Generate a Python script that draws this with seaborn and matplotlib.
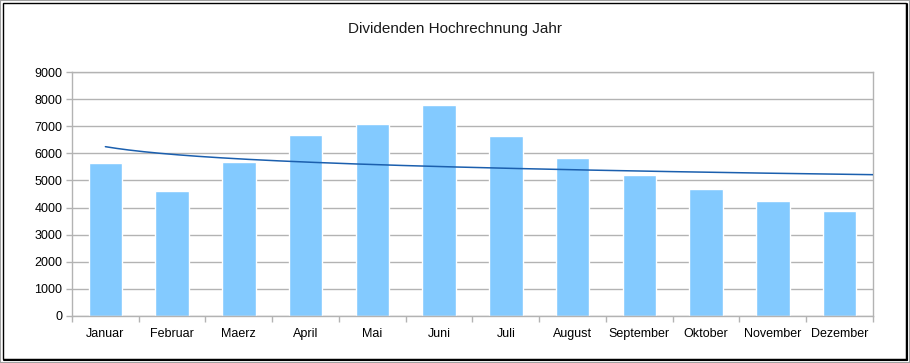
import numpy as np
import pandas as pd
import matplotlib
matplotlib.use("Agg")
import matplotlib.pyplot as plt
from matplotlib.patches import Rectangle
import seaborn as sns

months = ["Januar", "Februar", "Maerz", "April", "Mai", "Juni", "Juli",
          "August", "September", "Oktober", "November", "Dezember"]
dividends = [5650, 4600, 5680, 6680, 7080, 7780, 6660, 5830, 5190, 4670, 4240, 3880]
# logarithmic trend line (y = a + b*ln(x)), coefficients
trend_a = 6250
trend_b = -410
title = "Dividenden Hochrechnung Jahr"
yticks = [0, 1000, 2000, 3000, 4000, 5000, 6000, 7000, 8000, 9000]

sns.set_theme(style="white")
plt.rcParams['font.family'] = ['Liberation Sans', 'DejaVu Sans']

W, H = 910, 363
fig = plt.figure(figsize=(W / 100, H / 100), dpi=100)
ax = fig.add_axes([72 / W, 1 - 315.7 / H, (873 - 72) / W, (315.7 - 72.3) / H])

df = pd.DataFrame({"Monat": months, "Dividende": dividends})
sns.barplot(data=df, x="Monat", y="Dividende", color="#83CAFF", width=0.5,
            saturation=1, ax=ax, zorder=2)

# trend line from first category to right edge
xs = np.linspace(1, len(months) + 0.5, 200)
ax.plot(xs - 1, trend_a + trend_b * np.log(xs), color="#1b5fae", lw=1.1, zorder=3)

ax.set_xlim(-0.5, len(months) - 0.5)
ax.set_ylim(0, 9000)
ax.set_yticks(yticks)
ax.set_yticklabels([str(v) for v in yticks])
ax.set_xlabel("")
ax.set_ylabel("")

grid_col = "#b3b3b3"
ax.yaxis.grid(True, color=grid_col, lw=1, zorder=0)
ax.set_axisbelow(True)
for s in ["left", "right", "bottom", "top"]:
    ax.spines[s].set_visible(True)
    ax.spines[s].set_color(grid_col)
    ax.spines[s].set_linewidth(1)

ax.tick_params(axis="y", which="major", length=4, width=1, color=grid_col,
               pad=3, labelsize=9, labelcolor="black", left=True)
ax.set_xticks(np.arange(-0.5, len(months)), minor=True)
ax.tick_params(axis="x", which="major", length=0, pad=9, labelsize=9, labelcolor="black")
ax.tick_params(axis="x", which="minor", length=4, width=1, color=grid_col, bottom=True)

fig.text(455 / W, 1 - 29 / H, title, ha="center", va="center", fontsize=11, color="#1a1a1a")

# frame with shadow
fig.patches.append(Rectangle((0, 0), 1, 1, transform=fig.transFigure,
                             fill=False, ec="#a0a0a0", lw=1.5))
fig.patches.append(Rectangle((3 / W, 1 - 359 / H), 903 / W, 356 / H,
                             transform=fig.transFigure, fill=False, ec="black", lw=1.0))
fig.lines.append(plt.Line2D([907 / W, 907 / W], [1 - 360 / H, 1 - 4 / H],
                            transform=fig.transFigure, color="black", lw=1.5))
fig.lines.append(plt.Line2D([4 / W, 907 / W], [1 - 360 / H, 1 - 360 / H],
                            transform=fig.transFigure, color="black", lw=1.5))

fig.savefig("out.png", dpi=100)
